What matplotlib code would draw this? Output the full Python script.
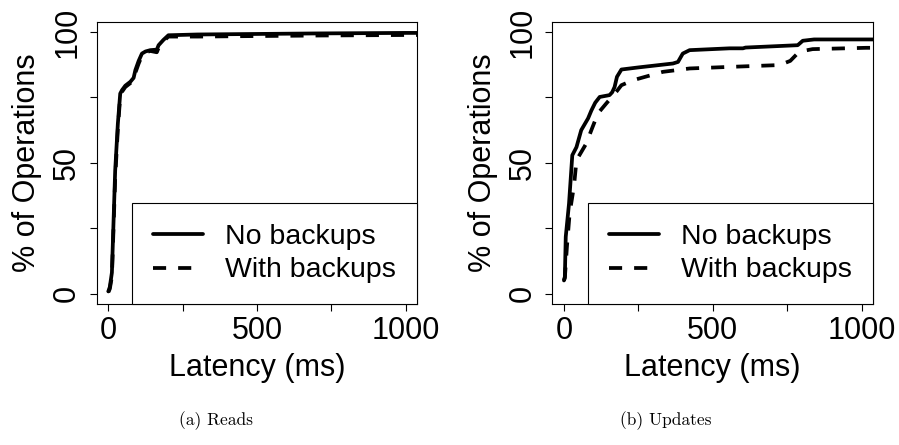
import matplotlib
matplotlib.use("Agg")
import matplotlib.pyplot as plt

plt.rcParams['font.family'] = ['Liberation Sans', 'DejaVu Sans']

# CDF of latency, reads
reads_x = [0, 5, 12, 23, 32, 40, 46, 57, 74, 85, 91, 102, 113, 125, 141, 163, 169, 185, 202, 300, 500, 700, 1000, 1100]
reads_no = [0.8, 2.5, 8, 47, 65, 76.5, 77.8, 79.5, 81, 82.5, 85.5, 89, 91.8, 92.6, 93.1, 93.3, 95, 97, 98.8, 99.1, 99.3, 99.5, 99.7, 99.7]
reads_bk = [0.5, 1.8, 6.5, 44, 63, 75.5, 77.2, 79, 80.5, 82, 84.5, 88, 91, 92.2, 92.8, 92.3, 94, 96.5, 98.3, 98.3, 98.5, 98.7, 98.9, 98.9]

# CDF of latency, updates
upd_x_no = [0, 3, 6, 17, 28, 42, 58, 81, 92, 105, 120, 153, 162, 170, 178, 193, 250, 366, 383, 399, 422, 556, 601, 610, 785, 802, 840, 1100]
upd_no = [5, 6.4, 21.7, 34.4, 52.9, 56, 62.5, 67, 70, 73, 75.2, 75.9, 77, 79, 82.9, 85.7, 86.5, 88, 88.6, 91.8, 93.1, 93.8, 93.8, 94.1, 95, 96.7, 97.2, 97.2]
upd_x_bk = [0, 3, 10, 19, 34, 42, 75, 92, 114, 142, 176, 193, 232, 332, 422, 556, 724, 760, 790, 835, 1015, 1100]
upd_bk = [5, 6, 18, 30.6, 41.4, 51, 57.4, 62.5, 68.9, 72.7, 77.2, 79.7, 81.6, 84.8, 86.1, 86.7, 87.4, 89, 92.5, 93.5, 94, 94]

xticks = [0, 250, 500, 750, 1000]
xlabels = ['0', '', '500', '', '1000']
yticks = [0, 25, 50, 75, 100]
ylabels = ['0', '', '50', '', '100']

panels = [
    ([0.1076, 0.3169, 0.356, 0.6344], reads_x, reads_no, reads_x, reads_bk, '(a) Reads', 216),
    ([0.6144, 0.3169, 0.3564, 0.6344], upd_x_no, upd_no, upd_x_bk, upd_bk, '(b) Updates', 666),
]

fig = plt.figure(figsize=(8.99, 4.45), dpi=100)

for rect, x1, y1, x2, y2, caption, cap_x in panels:
    ax = fig.add_axes(rect)
    ax.plot(x1, y1, color='black', lw=2.7, solid_capstyle='round', label='No backups')
    ax.plot(x2, y2, color='black', lw=2.7, linestyle=(0, (3.5, 3.2)), label='With backups')
    ax.set_xlim(-39, 1037)
    ax.set_ylim(-4, 104)
    ax.set_xticks(xticks)
    ax.set_xticklabels(xlabels)
    ax.set_yticks(yticks)
    ax.set_yticklabels(ylabels, rotation=90, va='center')
    ax.tick_params(direction='out', length=5, width=0.8, labelsize=22)
    ax.tick_params(axis='x', pad=3.5)
    ax.tick_params(axis='y', pad=5.5)
    for s in ax.spines.values():
        s.set_linewidth(0.8)
    ax.set_xlabel('Latency (ms)', fontsize=22)
    ax.set_ylabel('% of Operations', fontsize=22)
    ax.xaxis.set_label_coords(0.5, -0.175)
    ax.yaxis.set_label_coords(-0.17, 0.5)
    leg = ax.legend(loc='lower right', borderaxespad=0, fontsize=20.5,
                    handlelength=1.75, handletextpad=0.8, borderpad=0.72,
                    labelspacing=0.27, fancybox=False, framealpha=1)
    leg.get_frame().set_edgecolor('black')
    leg.get_frame().set_linewidth(0.8)
    fig.text(cap_x / 899, 1 - 421 / 445, caption, family='cmr10', fontsize=12.5,
             ha='center', va='center')

fig.savefig('out.png', dpi=100)
